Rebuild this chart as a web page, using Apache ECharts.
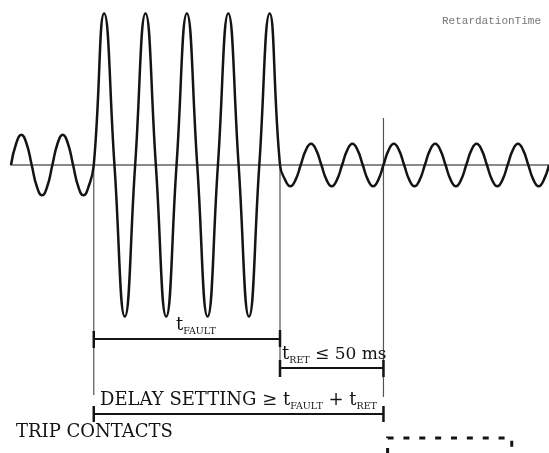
<!DOCTYPE html>
<html>
<head>
<meta charset="utf-8">
<script src="https://cdn.jsdelivr.net/npm/echarts@6/dist/echarts.min.js"></script>
<style>
html,body{margin:0;padding:0;background:#fff;}
#c{width:549px;height:453px;}
</style>
</head>
<body>
<div id="c"></div>
<script>
// ---- data (time in ms, current in per-unit) ----
const preFaultTimes = [-40,-37.5,-35,-32.5,-30,-27.5,-25,-22.5,-20,-17.5,-15,-12.5,-10,-7.5,-5,-2.5];
const preFaultValues = [0,0.71,1,0.71,0,-0.71,-1,-0.71, 0,0.71,1,0.71,0,-0.71,-1,-0.71];
const faultTimes = [0,5,10,15,20,25,30,35,40,45,50,55,60,65,70,75,80,85,90];
const faultValues = [0,5,0,-5,0,5,0,-5,0,5,0,-5,0,5,0,-5,0,5,0];
const postFaultTimes = [92.5,95,97.5,100,102.5,105,107.5,110,112.5,115,117.5,120,122.5,125,127.5,130,
  132.5,135,137.5,140,142.5,145,147.5,150,152.5,155,157.5,160,162.5,165,167.5,170,172.5,175,177.5,180,
  182.5,185,187.5,190,192.5,195,197.5,200,202.5,205,207.5,210,212.5,215,217.5,220];
const postFaultValues = [-0.49,-0.7,-0.49,0,0.49,0.7,0.49,0, -0.49,-0.7,-0.49,0,0.49,0.7,0.49,0,
  -0.49,-0.7,-0.49,0,0.49,0.7,0.49,0, -0.49,-0.7,-0.49,0,0.49,0.7,0.49,0,
  -0.49,-0.7,-0.49,0,0.49,0.7,0.49,0, -0.49,-0.7,-0.49,0,0.49,0.7,0.49,0, -0.49,-0.7,-0.49,0];
const eventTimes = [0, 90, 140];          // fault start, fault end, trip
const tripContactWindow = [142, 202];     // trip contacts closed
const chartTag = 'RetardationTime';
const tripLabel = 'TRIP CONTACTS';

const sampleTimes = preFaultTimes.concat(faultTimes, postFaultTimes);
const currentValues = preFaultValues.concat(faultValues, postFaultValues);
const wave = sampleTimes.map((t, i) => [t, currentValues[i]]);

const chart = echarts.init(document.getElementById('c'), null, {renderer: 'canvas'});
chart.setOption({
  animation: false,
  backgroundColor: '#fff',
  grid: {left: 11, top: 0, width: 540.5, height: 453, containLabel: false},
  xAxis: {
    type: 'value', min: -40, max: 220,
    axisLine: {show: true, onZero: true, lineStyle: {color: '#8a8a8a', width: 2}},
    axisTick: {show: false}, axisLabel: {show: false}, splitLine: {show: false}
  },
  yAxis: {
    type: 'value', min: -9.505, max: 5.446,
    axisLine: {show: false}, axisTick: {show: false}, axisLabel: {show: false}, splitLine: {show: false}
  },
  series: [{
    type: 'line', data: wave, smooth: 0.5, showSymbol: false, clip: false,
    lineStyle: {color: '#141414', width: 2.5}
  }]
});

const px = t => chart.convertToPixel({xAxisIndex: 0}, t);
const [xF0, xF1, xT] = eventTimes.map(px);
const [xC0, xC1] = tripContactWindow.map(px);

const ink = '#141414';
const thin = '#555';
const serif = 'DejaVu Serif';
function ln(x1, y1, x2, y2, w, c) {
  return {type: 'line', shape: {x1, y1, x2, y2}, style: {stroke: c || ink, lineWidth: w}, silent: true};
}
const richStyle = {
  m: {fontFamily: serif, fontSize: 18, lineHeight: 22, fill: ink, color: ink},
  n: {fontFamily: serif, fontSize: 17, lineHeight: 22, fill: ink, color: ink},
  s: {fontFamily: serif, fontSize: 9.5, lineHeight: 9.5, verticalAlign: 'bottom', fill: ink, color: ink}
};
function rtext(x, y, text) {
  return {type: 'text', x, y, silent: true,
    style: {text, rich: richStyle, verticalAlign: 'middle', align: 'left', fill: ink}};
}

const g = [
  // thin vertical event lines
  ln(xF0, 165, xF0, 395, 1.2, thin),
  ln(xF1, 165, xF1, 377, 1.2, thin),
  ln(xT, 118, xT, 397, 1.2, thin),
  // t_FAULT bracket
  ln(xF0, 339, xF1, 339, 2),
  ln(xF0, 331, xF0, 348, 2.5),
  ln(xF1, 330, xF1, 347, 2.5),
  // t_RET bracket
  ln(xF1, 368, xT, 368, 2),
  ln(xF1, 360, xF1, 377, 2.5),
  ln(xT, 360, xT, 377, 2.5),
  // delay bracket
  ln(xF0, 414, xT, 414, 2),
  ln(xF0, 406, xF0, 422, 2.5),
  ln(xT, 406, xT, 422, 2.5),
  // trip contacts (dashed pulse)
  {type: 'polyline', silent: true,
   shape: {points: [[xC0, 453.9], [xC0, 438], [xC1, 438], [xC1, 460]]},
   style: {stroke: ink, lineWidth: 3, lineDash: [6, 9.86], fill: null}},
  // labels
  rtext(176, 325.7, '{m|t}{s|FAULT}'),
  rtext(282, 354.7, '{m|t}{s|RET}{n| ≤ 50 ms}'),
  rtext(100, 400.7, '{m|DELAY SETTING ≥ t}{s|FAULT}{m| + t}{s|RET}'),
  {type: 'text', x: 16, y: 432, silent: true,
   style: {text: tripLabel, fontFamily: serif, fontSize: 18, fill: ink, verticalAlign: 'middle', align: 'left'}},
  {type: 'text', x: 442, y: 21, silent: true,
   style: {text: chartTag, fontFamily: 'Liberation Mono', fontSize: 11, fill: '#777', verticalAlign: 'middle', align: 'left'}}
];
chart.setOption({graphic: g});
</script>
</body>
</html>
